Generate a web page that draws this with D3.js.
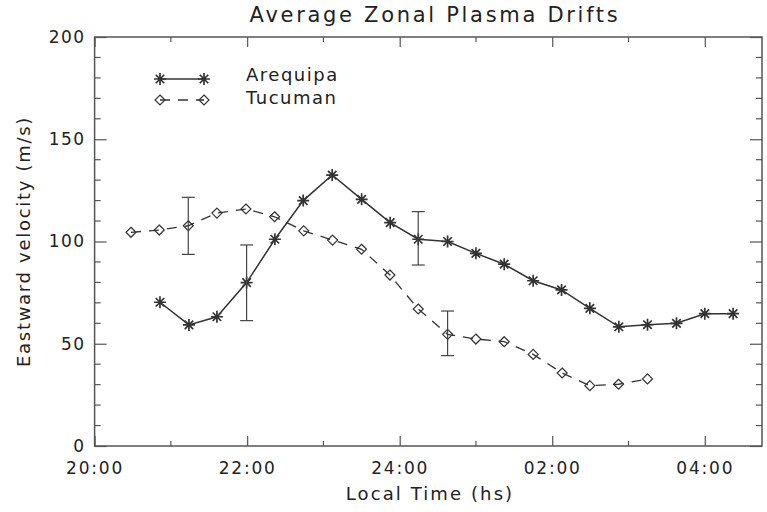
<!DOCTYPE html>
<html>
<head>
<meta charset="utf-8">
<script src="https://cdn.jsdelivr.net/npm/d3@7"></script>
<style>
  body { margin: 0; background: #fff; }
  text { font-family: "DejaVu Sans", sans-serif; fill: #222; }
</style>
</head>
<body>
<svg id="chart" width="767" height="512"></svg>
<script>
// Data (hours since 00:00 of first day, > 24 means next day)
const arequipaTime = [20.857, 21.237, 21.604, 21.993, 22.364, 22.735, 23.115, 23.501, 23.875, 24.243,
                      24.628, 24.999, 25.37, 25.75, 26.122, 26.493, 26.873, 27.249, 27.629, 28.0, 28.371];
const arequipaVel  = [70.3, 59.2, 63.2, 79.9, 101.1, 120.0, 132.5, 120.6, 109.2, 101.1,
                      100.0, 94.2, 88.9, 80.8, 76.3, 67.3, 58.3, 59.3, 60.0, 64.7, 64.7];
const tucumanTime  = [20.477, 20.848, 21.228, 21.604, 21.984, 22.36, 22.742, 23.12, 23.5, 23.872,
                      24.243, 24.628, 24.999, 25.37, 25.75, 26.13, 26.493, 26.869, 27.249];
const tucumanVel   = [104.5, 105.6, 107.7, 113.9, 115.9, 112.1, 105.2, 100.7, 96.2, 83.6,
                      67.0, 54.6, 52.3, 51.0, 44.8, 35.7, 29.5, 30.2, 32.8];

// error bars: [time, low, high]
const arequipaErr = [[21.993, 61.3, 98.3], [24.243, 88.5, 114.6]];
const tucumanErr  = [[21.228, 93.7, 121.6], [24.628, 44.2, 66.0]];

const xTickValues = [20, 22, 24, 26, 28];
const xTickLabels = ["20:00", "22:00", "24:00", "02:00", "04:00"];
const yTickValues = [0, 50, 100, 150, 200];

const W = 767, H = 512;
const margin = { top: 37, right: 5, bottom: 66, left: 94.6 };
const svg = d3.select("#chart");

const x = d3.scaleLinear().domain([20, 28.75]).range([margin.left, W - margin.right]);
const y = d3.scaleLinear().domain([0, 200]).range([H - margin.bottom, margin.top]);

const axisColor = "#555";

// Bottom axis (labels) and top axis (ticks only)
const xMinor = d3.range(21, 28.75, 2);
function xAxisGroup(gen, ty, withLabels) {
  const g = svg.append("g").attr("transform", `translate(0,${ty})`);
  g.call(gen.tickValues(xTickValues).tickSize(10).tickPadding(10)
            .tickFormat((d, i) => withLabels ? xTickLabels[i] : ""));
  g.select(".domain").remove();
  g.selectAll("line").attr("stroke", axisColor).attr("stroke-width", 1.2);
  g.selectAll("text").style("font-size", "17px").style("letter-spacing", "1.8px").attr("fill", "#222");
  return g;
}
const gx = xAxisGroup(d3.axisTop(x), H - margin.bottom, true);
gx.selectAll("text").attr("dy", null).attr("y", 28);
const gxt = xAxisGroup(d3.axisBottom(x), margin.top, false);

// minor x ticks
[H - margin.bottom, margin.top].forEach((ty, k) => {
  svg.append("g").selectAll("line").data(xMinor).join("line")
    .attr("x1", d => x(d)).attr("x2", d => x(d))
    .attr("y1", ty).attr("y2", k === 0 ? ty - 5 : ty + 5)
    .attr("stroke", axisColor).attr("stroke-width", 1.2);
});

// Left axis (labels) and right axis (ticks only)
const yMinor = d3.range(10, 200, 10).filter(v => v % 50 !== 0);
const gy = svg.append("g").attr("transform", `translate(${margin.left},0)`)
  .call(d3.axisRight(y).tickValues(yTickValues).tickSize(12).tickFormat(d3.format("d")));
gy.select(".domain").remove();
gy.selectAll("line").attr("stroke", axisColor).attr("stroke-width", 1.2);
gy.selectAll("text").attr("x", -9).attr("text-anchor", "end")
  .style("font-size", "17px").style("letter-spacing", "1.5px");

const gyr = svg.append("g").attr("transform", `translate(${W - margin.right},0)`)
  .call(d3.axisLeft(y).tickValues(yTickValues).tickSize(12).tickFormat(""));
gyr.select(".domain").remove();
gyr.selectAll("line").attr("stroke", axisColor).attr("stroke-width", 1.2);

[[margin.left, 6], [W - margin.right, -6]].forEach(([tx, len]) => {
  svg.append("g").selectAll("line").data(yMinor).join("line")
    .attr("x1", tx).attr("x2", tx + len)
    .attr("y1", d => y(d)).attr("y2", d => y(d))
    .attr("stroke", axisColor).attr("stroke-width", 1.2);
});

// frame
svg.append("rect")
  .attr("x", margin.left).attr("y", margin.top)
  .attr("width", W - margin.left - margin.right).attr("height", H - margin.top - margin.bottom)
  .attr("fill", "none").attr("stroke", axisColor).attr("stroke-width", 1.5);

// Title and axis labels
svg.append("text").attr("x", 435).attr("y", 22).attr("text-anchor", "middle")
  .style("font-size", "21px").style("letter-spacing", "2.7px").text("Average Zonal Plasma Drifts");
svg.append("text").attr("x", 430).attr("y", 500).attr("text-anchor", "middle")
  .style("font-size", "18px").style("letter-spacing", "2.1px").text("Local Time (hs)");
svg.append("text").attr("transform", `translate(30,${y(100)}) rotate(-90)`).attr("text-anchor", "middle")
  .style("font-size", "18px").style("letter-spacing", "1.7px").text("Eastward velocity (m/s)");

// markers
const lineColor = "#333";
function asterisk(g, cx, cy, r) {
  const d = [];
  for (let k = 0; k < 4; k++) {
    const a = k * Math.PI / 4;
    d.push(`M${cx - r * Math.cos(a)},${cy - r * Math.sin(a)}L${cx + r * Math.cos(a)},${cy + r * Math.sin(a)}`);
  }
  g.append("path").attr("d", d.join("")).attr("stroke", lineColor).attr("stroke-width", 1.7).attr("fill", "none");
}
function diamond(g, cx, cy, r) {
  g.append("path").attr("d", `M${cx},${cy - r}L${cx + r},${cy}L${cx},${cy + r}L${cx - r},${cy}Z`)
    .attr("stroke", lineColor).attr("stroke-width", 1.2).attr("fill", "none");
}

const line = d3.line().x(d => x(d[0])).y(d => y(d[1]));

const areqData = arequipaTime.map((t, i) => [t, arequipaVel[i]]);
const tucData = tucumanTime.map((t, i) => [t, tucumanVel[i]]);

svg.append("path").datum(areqData).attr("d", line)
  .attr("fill", "none").attr("stroke", lineColor).attr("stroke-width", 1.5);
svg.append("path").datum(tucData).attr("d", line)
  .attr("fill", "none").attr("stroke", lineColor).attr("stroke-width", 1.3)
  .attr("stroke-dasharray", "10,8");

const gm = svg.append("g");
areqData.forEach(d => asterisk(gm, x(d[0]), y(d[1]), 6));
tucData.forEach(d => diamond(gm, x(d[0]), y(d[1]), 5));

// error bars
const gErr = svg.append("g").attr("stroke", "#444").attr("stroke-width", 1.2);
arequipaErr.concat(tucumanErr).forEach(([t, lo, hi]) => {
  gErr.append("line").attr("x1", x(t)).attr("x2", x(t)).attr("y1", y(lo)).attr("y2", y(hi));
  gErr.append("line").attr("x1", x(t) - 6.5).attr("x2", x(t) + 6.5).attr("y1", y(lo)).attr("y2", y(lo));
  gErr.append("line").attr("x1", x(t) - 6.5).attr("x2", x(t) + 6.5).attr("y1", y(hi)).attr("y2", y(hi));
});

// legend
const legend = svg.append("g");
legend.append("line").attr("x1", 160).attr("x2", 204).attr("y1", 79).attr("y2", 79)
  .attr("stroke", lineColor).attr("stroke-width", 1.5);
asterisk(legend, 160, 79, 6);
asterisk(legend, 204, 79, 6);
legend.append("line").attr("x1", 160).attr("x2", 204).attr("y1", 100).attr("y2", 100)
  .attr("stroke", lineColor).attr("stroke-width", 1.3).attr("stroke-dasharray", "10,8");
diamond(legend, 160, 100, 5);
diamond(legend, 204, 100, 5);
legend.append("text").attr("x", 246).attr("y", 81).style("font-size", "18px").style("letter-spacing", "1.5px").text("Arequipa");
legend.append("text").attr("x", 246).attr("y", 104).style("font-size", "18px").style("letter-spacing", "1.5px").text("Tucuman");
</script>
</body>
</html>
